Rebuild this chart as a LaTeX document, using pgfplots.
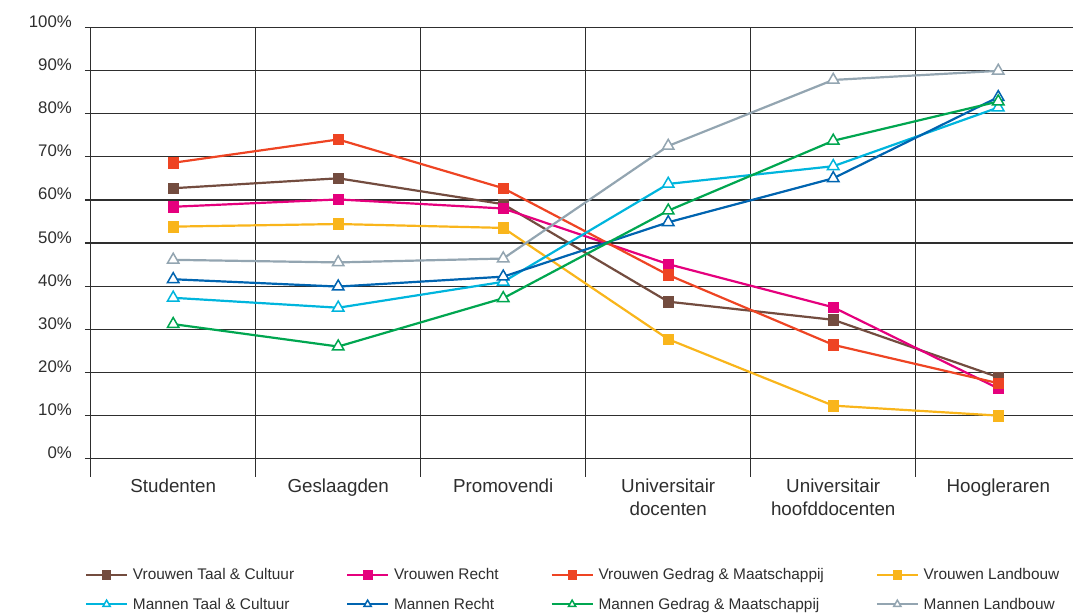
\documentclass[border=0pt]{standalone}
\usepackage{fontspec}
\setmainfont{Liberation Sans}
\usepackage{pgfplots}
\pgfplotsset{compat=1.18}
\definecolor{cbrown}{HTML}{734C3F}
\definecolor{cpink}{HTML}{E5007D}
\definecolor{cred}{HTML}{EE4423}
\definecolor{cyellow}{HTML}{F9B51B}
\definecolor{ccyan}{HTML}{00B5DD}
\definecolor{cblue}{HTML}{0064B0}
\definecolor{cgreen}{HTML}{00A650}
\definecolor{cgray}{HTML}{93A5B1}
\definecolor{ctext}{HTML}{2E2E2E}
\definecolor{cgrid}{HTML}{2E2E2E}
\pgfplotsset{
  vser/.style={color=#1, line width=2.2pt, mark=square*, mark size=5.3pt, mark options={solid, fill=#1, draw=#1, line width=0.6pt}},
  mser/.style={color=#1, line width=2.2pt, mark=triangle*, mark size=6.6pt, mark options={solid, fill=white, draw=#1, line width=1.5pt}},
}
\begin{document}
\begin{tikzpicture}
\useasboundingbox (-90.7pt,-137.3pt) rectangle (982.3pt,476.7pt);
\begin{axis}[
  at={(0pt,0pt)}, anchor=south west,
  scale only axis, width=982.3pt, height=449.4pt,
  xmin=0, xmax=5.953, ymin=-4.17, ymax=100,
  axis line style={draw=none},
  clip=false,
  xtick={0.5,1.5,2.5,3.5,4.5,5.5},
  xticklabels={Studenten, Geslaagden, Promovendi, {Universitair\\docenten}, {Universitair\\hoofddocenten}, Hoogleraren},
  xticklabel style={align=center, font=\fontsize{18.8}{23}\selectfont, text=ctext, inner sep=0pt, anchor=north, yshift=3.5pt},
  x tick style={draw=none},
  extra x ticks={0,1,2,3,4,5},
  extra x tick labels={},
  extra x tick style={grid=major, major grid style={draw=cgrid, line width=1.3pt}, tick style={draw=none}},
  ytick={0,10,...,100},
  yticklabel={\pgfmathprintnumber{\tick}\%},
  /pgf/number format/assume math mode=true,
  yticklabel style={font=\fontsize{16.8}{20}\selectfont, text=ctext, inner sep=0pt, anchor=base east, xshift=-13pt},
  ytick pos=left,
  tick align=outside,
  major tick length=5.7pt,
  y tick style={draw=cgrid, line width=1.3pt},
  ymajorgrids,
  y grid style={draw=cgrid, line width=1.3pt},
  legend columns=4,
  legend cell align=left,
  legend style={draw=none, fill=none, at={(-5.7pt,-112.8pt)}, anchor=west, inner sep=0pt,
    font=\fontsize{15.4}{18}\selectfont, text=ctext,
    row sep=13pt,
    nodes={inner xsep=5pt},
    /tikz/every even column/.append style={column sep=47pt}},
  legend image code/.code={\draw[#1, line width=1.8pt, mark size=4.2pt, mark repeat=2, mark phase=2] plot coordinates {(0pt,0pt) (20.5pt,0pt) (41pt,0pt)};},
]
\addplot[vser=cbrown] coordinates {(0.5,62.7) (1.5,65.0) (2.5,59.0) (3.5,36.4) (4.5,32.2) (5.5,18.9)};
\addlegendentry{Vrouwen Taal \& Cultuur}
\addplot[vser=cpink] coordinates {(0.5,58.4) (1.5,60.1) (2.5,58.0) (3.5,45.1) (4.5,35.1) (5.5,16.3)};
\addlegendentry{Vrouwen Recht}
\addplot[vser=cred] coordinates {(0.5,68.6) (1.5,74.0) (2.5,62.7) (3.5,42.6) (4.5,26.4) (5.5,17.5)};
\addlegendentry{Vrouwen Gedrag \& Maatschappij}
\addplot[vser=cyellow] coordinates {(0.5,53.8) (1.5,54.4) (2.5,53.5) (3.5,27.7) (4.5,12.3) (5.5,10.0)};
\addlegendentry{Vrouwen Landbouw}
\addplot[mser=ccyan] coordinates {(0.5,37.3) (1.5,35.0) (2.5,41.0) (3.5,63.7) (4.5,67.8) (5.5,81.4)};
\addlegendentry{Mannen Taal \& Cultuur}
\addplot[mser=cblue] coordinates {(0.5,41.6) (1.5,39.9) (2.5,42.2) (3.5,54.8) (4.5,65.0) (5.5,83.8)};
\addlegendentry{Mannen Recht}
\addplot[mser=cgreen] coordinates {(0.5,31.2) (1.5,26.0) (2.5,37.2) (3.5,57.5) (4.5,73.7) (5.5,82.8)};
\addlegendentry{Mannen Gedrag \& Maatschappij}
\addplot[mser=cgray] coordinates {(0.5,46.1) (1.5,45.5) (2.5,46.4) (3.5,72.5) (4.5,87.8) (5.5,89.9)};
\addlegendentry{Mannen Landbouw}
\end{axis}
\end{tikzpicture}
\end{document}
